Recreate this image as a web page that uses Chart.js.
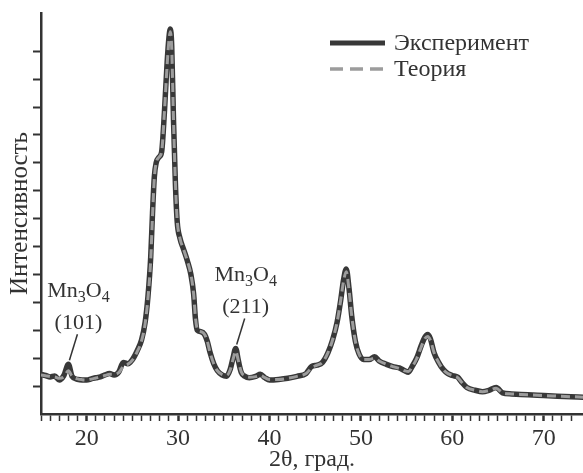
<!DOCTYPE html>
<html>
<head>
<meta charset="utf-8">
<script src="https://cdn.jsdelivr.net/npm/chart.js@4.4.1/dist/chart.umd.min.js"></script>
<style>
  html, body { margin: 0; padding: 0; background: #fff; }
  canvas { display: block; }
</style>
</head>
<body>
<canvas id="xrdChart" width="583" height="473"></canvas>
<script>
// 2θ angles, shared by both curves
const angles = [
    15.0, 15.5, 16.0, 16.5, 17.0, 17.5, 18.0, 18.4, 19.0, 19.5,
    20.0, 20.5, 21.0, 21.5, 22.0, 22.5, 23.0, 23.5, 24.0, 24.5,
    25.0, 25.5, 26.0, 26.4, 26.7, 27.0, 27.2, 27.4, 27.6, 27.9,
    28.2, 28.5, 28.8, 29.0, 29.15, 29.3, 29.5, 29.7, 29.9, 30.2,
    30.6, 31.0, 31.4, 31.7, 31.9, 32.1, 32.5, 32.9, 33.2, 33.5,
    33.9, 34.3, 34.8, 35.3, 35.7, 36.0, 36.3, 36.6, 36.9, 37.3,
    37.8, 38.5, 39.0, 39.5, 40.0, 41.0, 42.0, 43.0, 44.0, 44.6,
    45.2, 45.8, 46.4, 46.9, 47.4, 47.8, 48.1, 48.4, 48.7, 49.0,
    49.4, 49.8, 50.3, 50.9, 51.5, 52.0, 52.8, 53.5, 54.2, 54.8,
    55.2, 55.6, 56.1, 56.6, 57.0, 57.3, 57.6, 58.0, 58.5, 59.0,
    59.5, 60.0, 60.6, 61.0, 61.6, 62.5, 63.3, 64.0, 64.8, 65.5,
    66.5, 67.5, 68.8, 70.0, 71.5, 73.0, 74.5
];

// Experimental intensity (arb. units)
const experimentValues = [
    1.42, 1.38, 1.33, 1.36, 1.22, 1.38, 1.78, 1.35, 1.24, 1.22,
    1.22, 1.26, 1.30, 1.33, 1.40, 1.45, 1.40, 1.50, 1.85, 1.80,
    1.95, 2.25, 2.65, 3.30, 4.20, 5.60, 7.20, 8.50, 9.00, 9.20,
    9.40, 10.8, 12.6, 13.5, 13.8, 13.2, 10.5, 8.30, 6.90, 6.30,
    5.90, 5.50, 5.00, 4.30, 3.40, 3.00, 2.95, 2.85, 2.60, 2.20,
    1.80, 1.55, 1.40, 1.35, 1.60, 2.00, 2.35, 1.90, 1.50, 1.35,
    1.30, 1.35, 1.42, 1.30, 1.22, 1.24, 1.28, 1.35, 1.45, 1.70,
    1.75, 1.85, 2.20, 2.65, 3.30, 4.10, 4.80, 5.20, 4.50, 3.50,
    2.60, 2.15, 1.95, 1.95, 2.05, 1.90, 1.78, 1.70, 1.65, 1.55,
    1.50, 1.70, 2.00, 2.45, 2.75, 2.85, 2.70, 2.20, 1.85, 1.60,
    1.45, 1.38, 1.32, 1.15, 0.95, 0.85, 0.80, 0.85, 0.95, 0.76,
    0.72, 0.70, 0.68, 0.66, 0.64, 0.62, 0.60
];

// Theoretical (fitted) intensity
const theoryValues = [
    1.40, 1.37, 1.34, 1.33, 1.28, 1.33, 1.55, 1.36, 1.26, 1.23,
    1.22, 1.25, 1.29, 1.33, 1.38, 1.42, 1.42, 1.48, 1.70, 1.78,
    1.93, 2.22, 2.62, 3.25, 4.15, 5.50, 7.10, 8.45, 9.00, 9.20,
    9.40, 10.8, 12.5, 13.4, 13.7, 13.1, 10.5, 8.35, 6.95, 6.30,
    5.90, 5.50, 5.00, 4.30, 3.45, 3.05, 2.95, 2.85, 2.60, 2.20,
    1.80, 1.55, 1.42, 1.38, 1.58, 1.95, 2.25, 1.90, 1.52, 1.37,
    1.32, 1.34, 1.38, 1.30, 1.24, 1.24, 1.28, 1.35, 1.45, 1.65,
    1.75, 1.85, 2.20, 2.65, 3.30, 4.10, 4.75, 5.10, 4.45, 3.50,
    2.60, 2.15, 1.95, 1.95, 2.00, 1.90, 1.78, 1.70, 1.63, 1.55,
    1.52, 1.68, 1.98, 2.40, 2.70, 2.78, 2.65, 2.20, 1.85, 1.60,
    1.45, 1.38, 1.30, 1.15, 0.95, 0.85, 0.80, 0.84, 0.92, 0.76,
    0.72, 0.70, 0.68, 0.66, 0.64, 0.62, 0.60
];

const seriesNames = ['Эксперимент', 'Теория'];

// Mn3O4 reflections marked on the pattern
const markerPeaks = [18.0, 36.3];
const markerLabels = ['(101)', '(211)'];

const INK = '#333333';
const DARK_LINE = '#383838';
const GREY_LINE = '#9c9c9c';
const SERIF = '"Liberation Serif", "DejaVu Serif", serif';

function toPoints(values) {
    return angles.map((a, i) => ({ x: a, y: values[i] }));
}

/**
 * Legend drawn in the upper right corner
 */
const cornerLegend = {
    id: 'cornerLegend',
    afterDraw(chart) {
        const ctx = chart.ctx;
        const rows = [
            { y: 43, color: DARK_LINE, width: 5, dash: [] },
            { y: 69, color: GREY_LINE, width: 3.5, dash: [13, 7] }
        ];
        ctx.save();
        ctx.font = '24px ' + SERIF;
        ctx.textBaseline = 'middle';
        rows.forEach((row, i) => {
            ctx.beginPath();
            ctx.setLineDash(row.dash);
            ctx.strokeStyle = row.color;
            ctx.lineWidth = row.width;
            ctx.moveTo(330, row.y);
            ctx.lineTo(385, row.y);
            ctx.stroke();
            ctx.setLineDash([]);
            ctx.fillStyle = INK;
            ctx.fillText(chart.data.datasets[i].label, 394, row.y + 1);
        });
        ctx.restore();
    }
};

/**
 * Mn3O4 labels with leader lines
 */
const peakMarkers = {
    id: 'peakMarkers',
    afterDatasetsDraw(chart) {
        const ctx = chart.ctx;
        const xs = chart.scales.x;
        const ys = chart.scales.y;
        ctx.save();
        markerPeaks.forEach((peak, i) => {
            const idx = angles.indexOf(peak);
            const px = xs.getPixelForValue(peak);
            const py = ys.getPixelForValue(experimentValues[idx]);
            const cx = px + 10;
            const cy = py - 41;

            // leader line
            ctx.beginPath();
            ctx.strokeStyle = INK;
            ctx.lineWidth = 1.5;
            ctx.moveTo(cx - 1, cy + 11);
            ctx.lineTo(px + 1, py - 4);
            ctx.stroke();

            ctx.fillStyle = INK;
            ctx.textBaseline = 'middle';
            ctx.textAlign = 'center';
            ctx.font = '22px ' + SERIF;
            ctx.fillText(markerLabels[i], cx, cy);

            // Mn3O4 with subscripts
            const parts = [['Mn', false], ['3', true], ['O', false], ['4', true]];
            const bigFont = '22px ' + SERIF;
            const smallFont = '16px ' + SERIF;
            let total = 0;
            parts.forEach(p => {
                ctx.font = p[1] ? smallFont : bigFont;
                total += ctx.measureText(p[0]).width;
            });
            let x = cx - total / 2;
            const base = cy - 26;
            ctx.textAlign = 'left';
            ctx.textBaseline = 'alphabetic';
            parts.forEach(p => {
                ctx.font = p[1] ? smallFont : bigFont;
                ctx.fillText(p[0], x, p[1] ? base + 5 : base);
                x += ctx.measureText(p[0]).width;
            });
        });
        ctx.restore();
    }
};

new Chart(document.getElementById('xrdChart'), {
    type: 'line',
    data: {
        datasets: [
            {
                label: seriesNames[0],
                data: toPoints(experimentValues),
                order: 2,
                borderColor: DARK_LINE,
                borderWidth: 5.5,
                pointRadius: 0,
                cubicInterpolationMode: 'monotone',
                borderJoinStyle: 'round',
                borderCapStyle: 'round'
            },
            {
                label: seriesNames[1],
                data: toPoints(theoryValues),
                order: 1,
                borderColor: GREY_LINE,
                borderWidth: 3,
                borderDash: [9, 5],
                pointRadius: 0,
                cubicInterpolationMode: 'monotone'
            }
        ]
    },
    options: {
        responsive: false,
        animation: false,
        devicePixelRatio: 1,
        layout: { padding: { top: 13, right: 0, left: 0, bottom: 0 } },
        plugins: {
            legend: { display: false },
            tooltip: { enabled: false }
        },
        scales: {
            x: {
                type: 'linear',
                min: 15,
                max: 74.3,
                afterFit: axis => { axis.height = 59; },
                afterBuildTicks: axis => {
                    axis.ticks = axis.ticks.filter(t => Number.isInteger(t.value));
                },
                border: { display: true, color: INK, width: 2.5 },
                grid: {
                    drawOnChartArea: false,
                    drawTicks: true,
                    tickLength: 7,
                    tickColor: INK,
                    tickWidth: ctx => (ctx.tick && ctx.tick.value % 10 === 0 ? 2.5 : 1.5)
                },
                ticks: {
                    stepSize: 1,
                    autoSkip: false,
                    maxRotation: 0,
                    padding: 3,
                    color: INK,
                    font: { family: SERIF, size: 24 },
                    callback: value => (value % 10 === 0 ? value : '')
                },
                title: {
                    display: true,
                    text: '2θ, град.',
                    color: INK,
                    font: { family: SERIF, size: 24 },
                    padding: { top: 0, bottom: -1 }
                }
            },
            y: {
                type: 'linear',
                min: 0,
                max: 14.37,
                afterFit: axis => { axis.width = 41; },
                afterBuildTicks: axis => {
                    axis.ticks = axis.ticks.filter(t => Number.isInteger(t.value) && t.value > 0);
                },
                border: { display: true, color: INK, width: 2.5 },
                grid: {
                    drawOnChartArea: false,
                    drawTicks: true,
                    tickLength: 8,
                    tickColor: INK,
                    tickWidth: 2
                },
                ticks: {
                    stepSize: 1,
                    display: false
                },
                title: {
                    display: true,
                    text: 'Интенсивность',
                    color: INK,
                    font: { family: SERIF, size: 25 },
                    padding: { top: 5, bottom: 0 }
                }
            }
        }
    },
    plugins: [cornerLegend, peakMarkers]
});
</script>
</body>
</html>
